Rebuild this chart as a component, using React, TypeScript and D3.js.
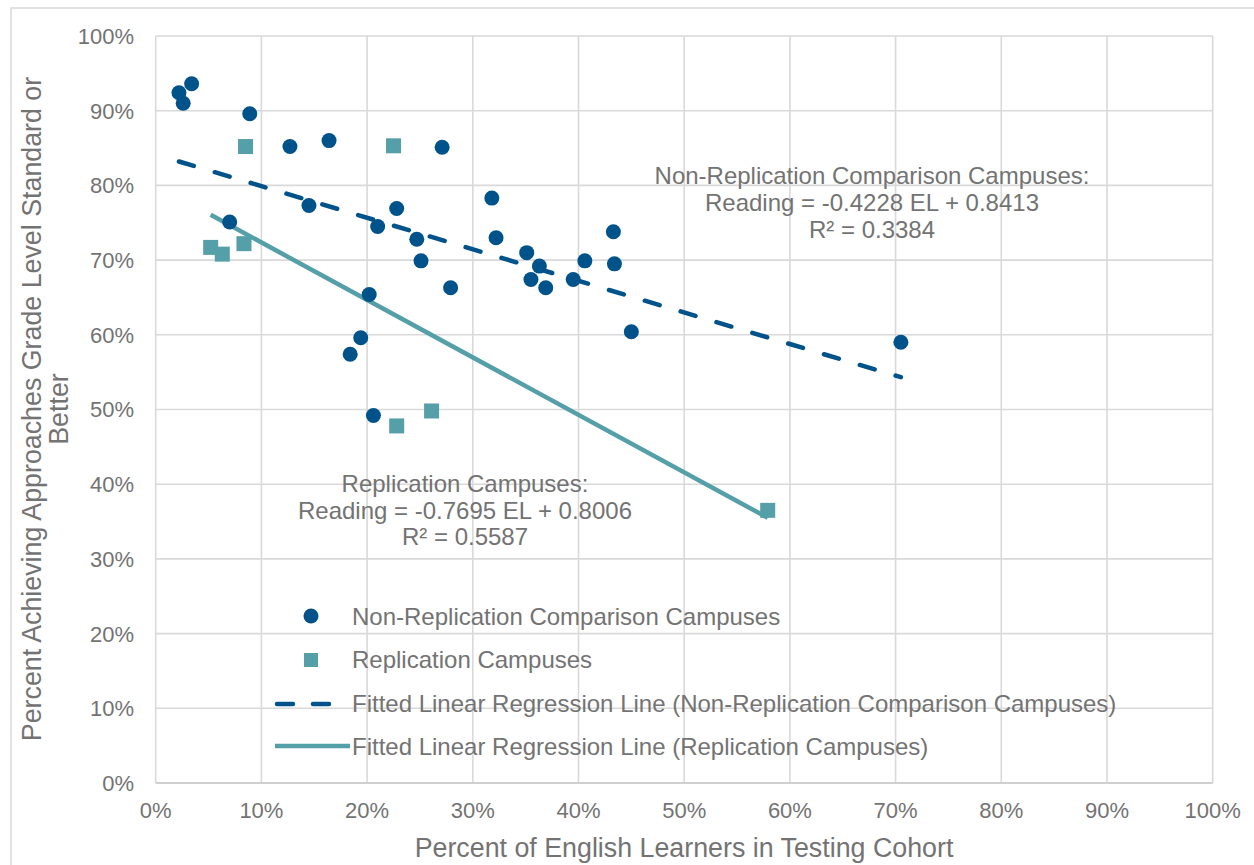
import React from "react";
import * as d3 from "d3";

// ---- Data ----
const nonRepX = [2.2, 2.6, 3.4, 8.9, 12.7, 16.4, 27.1, 14.5, 7.0, 21.0, 22.8, 24.7, 25.1, 27.9, 31.8, 32.2, 35.1, 35.5, 36.3, 36.9, 39.5, 40.6, 43.3, 43.4, 45.0, 20.2, 19.4, 18.4, 20.6, 70.5];
const nonRepY = [92.4, 91.0, 93.6, 89.6, 85.2, 86.0, 85.1, 77.3, 75.1, 74.5, 76.9, 72.8, 69.9, 66.3, 78.3, 73.0, 71.0, 67.4, 69.2, 66.3, 67.4, 69.9, 73.8, 69.5, 60.4, 65.4, 59.6, 57.4, 49.2, 59.0];
const repX = [5.2, 6.3, 8.35, 8.5, 22.5, 22.8, 26.1, 57.9];
const repY = [71.7, 70.8, 72.2, 85.2, 85.3, 47.8, 49.8, 36.5];

// regression coefficients (from chart labels) and fitted ranges
const nonRepFit = { slope: -0.4228, intercept: 0.8413, xMin: 2.2, xMax: 70.5 };
const repFit = { slope: -0.7695, intercept: 0.8006, xMin: 5.2, xMax: 57.9 };

const xTicks = [0, 10, 20, 30, 40, 50, 60, 70, 80, 90, 100];
const yTicks = [0, 10, 20, 30, 40, 50, 60, 70, 80, 90, 100];

const legendLabels = [
  "Non-Replication Comparison Campuses",
  "Replication Campuses",
  "Fitted Linear Regression Line (Non-Replication Comparison Campuses)",
  "Fitted Linear Regression Line (Replication Campuses)",
];
const nonRepAnno = ["Non-Replication Comparison Campuses:", "Reading = -0.4228 EL + 0.8413", "R² = 0.3384"];
const repAnno = ["Replication Campuses:", "Reading = -0.7695 EL + 0.8006", "R² = 0.5587"];
const xTitle = "Percent of English Learners in Testing Cohort";
const yTitle = ["Percent Achieving Approaches Grade Level Standard or", "Better"];

const DARK = "#00538A";
const TEAL = "#559FA9";
const TEXT = "#737373";
const GRID = "#D9D9D9";
const FONT = "'Liberation Sans', Arial, sans-serif";

export default function App() {
  const W = 1254, H = 865;
  const x = d3.scaleLinear().domain([0, 100]).range([155.7, 1212.7]);
  const y = d3.scaleLinear().domain([0, 100]).range([783, 36]);
  const line = d3.line<[number, number]>().x(d => x(d[0])).y(d => y(d[1]));
  const fitPts = (f: typeof nonRepFit): [number, number][] =>
    [f.xMin, f.xMax].map(v => [v, (f.intercept + f.slope * v / 100) * 100]);

  return (
    <svg width={W} height={H} style={{ position: "absolute", left: 0, top: 0, background: "#fff" }} fontFamily={FONT}>
      <rect x={0} y={0} width={W} height={H} fill="#fff" />
      {/* outer frame */}
      <rect x={11} y={8} width={W + 10} height={H + 10} fill="none" stroke="#D9D9D9" strokeWidth={1.5} />

      {/* grid */}
      {xTicks.map(t => (
        <line key={"gx" + t} x1={x(t)} x2={x(t)} y1={y(0)} y2={y(100)} stroke={GRID} strokeWidth={1.6} />
      ))}
      {yTicks.map(t => (
        <line key={"gy" + t} x1={x(0)} x2={x(100)} y1={y(t)} y2={y(t)} stroke={t === 0 ? "#CFCFCF" : GRID} strokeWidth={t === 0 ? 2 : 1.6} />
      ))}

      {/* tick labels */}
      {yTicks.map(t => (
        <text key={"ty" + t} x={134} y={y(t)} dy="0.36em" textAnchor="end" fontSize={22} fill={TEXT}>{t + "%"}</text>
      ))}
      {xTicks.map(t => (
        <text key={"tx" + t} x={x(t)} y={818} textAnchor="middle" fontSize={22} fill={TEXT}>{t + "%"}</text>
      ))}

      {/* axis titles */}
      <text x={684} y={857} textAnchor="middle" fontSize={26.8} fill={TEXT}>{xTitle}</text>
      {yTitle.map((t, i) => (
        <text key={"yt" + i} transform={`translate(${41 + i * 27},409) rotate(-90)`} textAnchor="middle" fontSize={26.8} fill={TEXT}>{t}</text>
      ))}

      {/* regression lines */}
      <path d={line(fitPts(nonRepFit)) || ""} fill="none" stroke={DARK} strokeWidth={4.5} strokeDasharray="15.5 21.9" strokeLinecap="round" />
      <path d={line(fitPts(repFit)) || ""} fill="none" stroke={TEAL} strokeWidth={4.5} />

      {/* points */}
      {nonRepX.map((v, i) => (
        <circle key={"c" + i} cx={x(v)} cy={y(nonRepY[i])} r={7.5} fill={DARK} />
      ))}
      {repX.map((v, i) => (
        <rect key={"s" + i} x={x(v) - 7.5} y={y(repY[i]) - 7.5} width={15} height={15} fill={TEAL} />
      ))}

      {/* annotations */}
      {nonRepAnno.map((t, i) => (
        <text key={"na" + i} x={872} y={184 + i * 27} textAnchor="middle" fontSize={24} fill={TEXT}>{t}</text>
      ))}
      {repAnno.map((t, i) => (
        <text key={"ra" + i} x={465} y={492 + i * 26.5} textAnchor="middle" fontSize={24} fill={TEXT}>{t}</text>
      ))}

      {/* legend */}
      <circle cx={311} cy={616} r={7.5} fill={DARK} />
      <rect x={304} y={653} width={14} height={14} fill={TEAL} />
      <line x1={277} x2={343} y1={704} y2={704} stroke={DARK} strokeWidth={4.5} strokeDasharray="16 20" strokeLinecap="round" />
      <line x1={275} x2={350} y1={746} y2={746} stroke={TEAL} strokeWidth={4.5} />
      {legendLabels.map((t, i) => (
        <text key={"lg" + i} x={352} y={616 + i * 43.5} dy="0.36em" fontSize={24} fill={TEXT}>{t}</text>
      ))}
    </svg>
  );
}
